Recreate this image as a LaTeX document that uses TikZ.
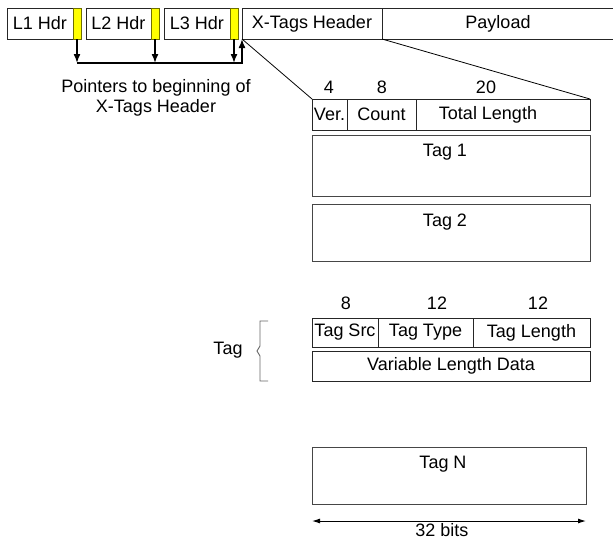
\documentclass[tikz,border=0pt]{standalone}
\usepackage{fontspec}
\setmainfont{Liberation Sans}
\usepackage{tikz}
\usetikzlibrary{positioning}
\usetikzlibrary{arrows.meta}
\definecolor{giallo}{RGB}{255,255,0}
\definecolor{oliva}{RGB}{110,110,0}
\definecolor{bordo}{RGB}{70,70,70}
\tikzset{
  packet/.style={
    every node/.style={font=\fontsize{18}{20}\selectfont},
    field/.style={draw=black!85,rectangle,inner sep=0pt,outer sep=0pt,minimum height=31pt,anchor=north west},
    marker/.style={field,fill=giallo,draw=oliva,minimum width=8pt},
    tag box/.style={field,draw=bordo,minimum width=278pt},
    tag title/.style={anchor=north,yshift=-6pt,xshift=-6pt},
    bits/.style={inner sep=1pt},
    pointer/.style={line width=1.5pt,-{Latex[length=9pt,width=7pt]}},
    zoom line/.style={line width=0.8pt},
    brace line/.style={draw=black!60,line width=0.9pt},
    dim line/.style={line width=1pt,{Latex[length=8pt,width=5pt]}-{Latex[length=8pt,width=5pt]}},
  }
}

\begin{document}
\begin{tikzpicture}[packet,x=1pt,y=-1pt]
    \useasboundingbox (0,0) rectangle (613,539);

    % lower layer headers with their pointers
    \foreach \n/\x/\w in {1/7/66,2/86/65,3/164/66}{
        \node[field,minimum width=\w pt] (l\n) at (\x,8) {L\n\ Hdr};
        \node[marker] (p\n) at (l\n.north east) {};
    }
    \node[field,minimum width=140pt] (xt) at (242,8) {X-Tags Header};
    \node[field,minimum width=232pt] (pl) at (xt.north east) {Payload};

    \coordinate (bus) at (0,63);
    \foreach \n in {1,2,3}
        \draw[pointer] (p\n.south) -- (p\n.south |- bus);
    \draw[pointer] (p1.south |- bus) -| (xt.south west);
    \node[align=center] (note) at (156,98) {Pointers to beginning of\\X-Tags Header};

    % X-Tags header
    \node[bits] (b4) at (329,87) {4};
    \node[bits] (b8) at (382,87) {8};
    \node[bits] (b20) at (486,87) {20};
    \node[field,minimum width=35pt] (ver) at (312,99) {Ver.};
    \node[field,minimum width=69pt] (cnt) at (ver.north east) {Count};
    \node[field,minimum width=174pt,label={[xshift=-15pt]center:Total Length}] (tot) at (cnt.north east) {};
    \draw[zoom line] (xt.south west) -- (ver.north west);
    \draw[zoom line] (xt.south east) -- (tot.north east);

    \node[tag box,minimum height=61pt,label={[tag title]north:Tag 1}] (tag1) at (312,135) {};
    \node[tag box,minimum height=57pt,label={[tag title]north:Tag 2}] (tag2) at (312,204) {};

    % tag layout
    \node[bits] (s8) at (346,303) {8};
    \node[bits] (s12a) at (437,303) {12};
    \node[bits] (s12b) at (538,303) {12};
    \node[field,minimum width=66pt,minimum height=29pt] (src) at (312,318) {Tag Src};
    \node[field,minimum width=95pt,minimum height=29pt] (type) at (src.north east) {Tag Type};
    \node[field,minimum width=117pt,minimum height=29pt] (len) at (type.north east) {Tag Length};
    \node[field,minimum width=278pt,minimum height=30pt] (data) at (312,351) {Variable Length Data};

    \node (tagname) at (228,350) {Tag};
    \draw[brace line] (268,321) -- (260,321) -- (260,346) -- (257,351) -- (260,356) -- (260,381) -- (268,381);

    \node[tag box,minimum width=274pt,minimum height=57pt,label={[tag title]north:Tag N}] (tagN) at (312,447) {};
    \draw[dim line] ([yshift=-17pt]tagN.south west) -- ([yshift=-17pt]tagN.south east);
    \node (width) at (442,530) {32 bits};
\end{tikzpicture}
\end{document}
